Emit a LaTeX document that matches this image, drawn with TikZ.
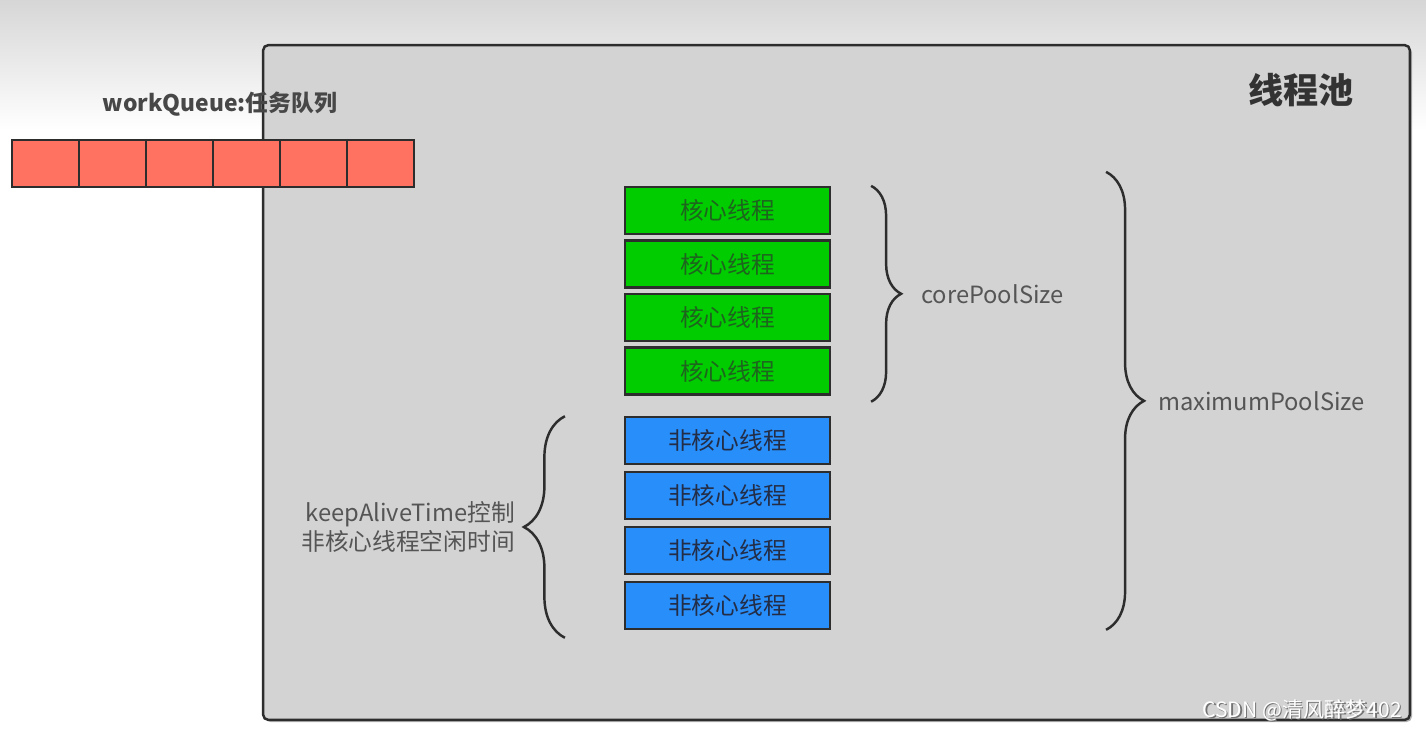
\documentclass[tikz,border=0pt]{standalone}
\usepackage{fontspec}
\setmainfont{Noto Sans CJK SC}
\usepackage{tikz}
\usetikzlibrary{positioning, shadows, decorations.pathreplacing}

\definecolor{poolgray}{RGB}{211,211,211}
\definecolor{queuered}{RGB}{255,114,98}
\definecolor{coregreen}{RGB}{0,204,0}
\definecolor{extrablue}{RGB}{40,142,250}
\definecolor{coretext}{RGB}{30,100,30}
\definecolor{extratext}{RGB}{35,45,70}
\definecolor{labelgray}{RGB}{85,85,85}
\definecolor{edgegray}{RGB}{45,45,45}

\begin{document}
\begin{tikzpicture}[
  x=0.02cm, y=-0.02cm,
  pool/.style={rectangle, draw=edgegray, line width=1.4pt, rounded corners=3pt, fill=poolgray, minimum width=22.94cm, minimum height=13.5cm, drop shadow={shadow xshift=1.2pt, shadow yshift=-1.2pt, opacity=0.6}},
  cell/.style={rectangle, draw=edgegray, line width=1.3pt, fill=queuered, minimum width=1.34cm, minimum height=0.94cm, outer sep=0pt},
  thread/.style={rectangle, draw=edgegray, line width=1.3pt, minimum width=4.1cm, minimum height=0.94cm, font=\fontsize{13.5}{15}\selectfont},
  core/.style={thread, fill=coregreen, text=coretext},
  extra/.style={thread, fill=extrablue, text=extratext},
  brace/.style={decorate, decoration={brace, amplitude=#1}, draw=edgegray, line width=1.4pt},
  lbl/.style={text=labelgray, font=\fontsize{13.5}{16}\selectfont}
]
  \useasboundingbox (0,0) rectangle (1426,730);
  \fill[white] (0,0) rectangle (1426,730);
  \shade[top color=black!16, bottom color=white] (0,0) rectangle (1426,130);

  % thread pool
  \node[pool] (pool) at (836.5,382.5) {};
  \node[font=\fontsize{20}{24}\selectfont\bfseries, text=black!80] (title) at (1301,90) {线程池};

  % work queue
  \node[font=\fontsize{13}{15}\selectfont\bfseries, text=black!72] (qlabel) at (220,104) {workQueue:任务队列};
  \node[cell] (q1) at (45.5,163.5) {};
  \node[cell, right=0pt of q1] (q2) {};
  \node[cell, right=0pt of q2] (q3) {};
  \node[cell, right=0pt of q3] (q4) {};
  \node[cell, right=0pt of q4] (q5) {};
  \node[cell, right=0pt of q5] (q6) {};

  % core threads
  \node[core] (core1) at (727.5,210.5) {核心线程};
  \node[core, below=0.085cm of core1] (core2) {核心线程};
  \node[core, below=0.085cm of core2] (core3) {核心线程};
  \node[core, below=0.085cm of core3] (core4) {核心线程};

  % non-core threads
  \node[extra, below=0.41cm of core4] (extra1) {非核心线程};
  \node[extra, below=0.11cm of extra1] (extra2) {非核心线程};
  \node[extra, below=0.11cm of extra2] (extra3) {非核心线程};
  \node[extra, below=0.11cm of extra3] (extra4) {非核心线程};

  % braces
  \coordinate (coretop) at ([xshift=0.8cm]core1.north east);
  \coordinate (corebot) at ([xshift=0.8cm, yshift=-0.12cm]core4.south east);
  \coordinate (maxtop) at ([xshift=5.5cm, yshift=0.28cm]core1.north east);
  \coordinate (maxbot) at ([xshift=5.5cm]extra4.south east);
  \coordinate (alivetop) at ([xshift=-1.18cm]extra1.north west);
  \coordinate (alivebot) at ([xshift=-1.18cm, yshift=-0.16cm]extra4.south west);

  \draw[brace=0.6cm] (coretop) -- (corebot) node[lbl, midway, right=0.86cm] (coresize) {corePoolSize};
  \draw[brace=0.76cm] (maxtop) -- (maxbot) node[lbl, midway, right=0.9cm] (maxsize) {maximumPoolSize};
  \draw[brace=0.82cm] (alivebot) -- (alivetop) node[lbl, midway, left=0.86cm, align=right] (alive) {keepAliveTime控制\\非核心线程空闲时间};

  % watermark
  \node[anchor=east, text=black!55, font=\fontsize{12}{14}\selectfont] (markshadow) at (1409.5,711.5) {CSDN @清风醉梦402};
  \node[anchor=east, text=white, font=\fontsize{12}{14}\selectfont] (mark) at (1408,710) {CSDN @清风醉梦402};
\end{tikzpicture}
\end{document}
